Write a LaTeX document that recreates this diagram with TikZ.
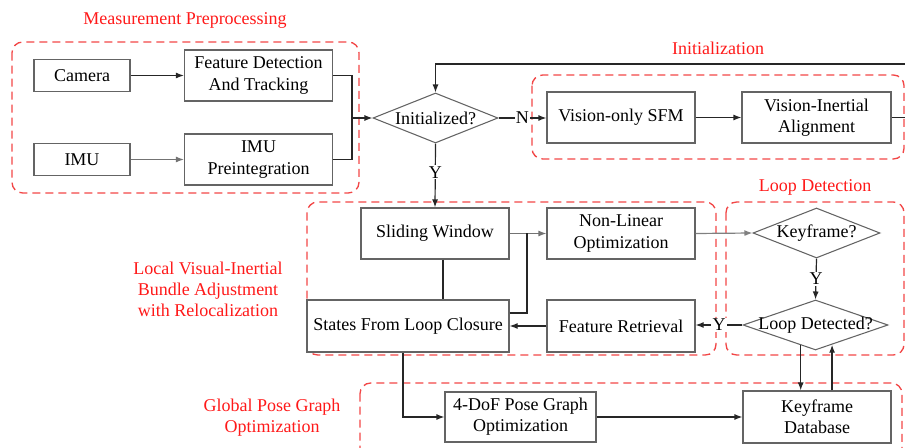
\documentclass[tikz,border=0pt]{standalone}
\usepackage{fontspec}
\setmainfont{Liberation Serif}
\usepackage{tikz}
\usetikzlibrary{arrows.meta,shapes.geometric}

\definecolor{frameRed}{RGB}{242,70,70}
\definecolor{titleRed}{RGB}{255,25,25}
\definecolor{boxGray}{RGB}{100,100,100}

\tikzset{
  blk/.style={draw=boxGray, line width=0.9pt, fill=white, align=center, inner sep=1pt, minimum width=111pt, minimum height=38.25pt},
  sml/.style={blk, minimum width=72pt, minimum height=23.5pt},
  dec/.style={diamond, draw=boxGray, line width=0.8pt, fill=white, inner sep=0pt, minimum width=#1, minimum height=37.5pt},
  grp/.style={draw=frameRed, line width=1pt, dash pattern=on 6pt off 3.75pt, rounded corners=8pt},
  grptitle/.style={text=titleRed, align=center},
  arr/.style={draw=black!85, line width=0.9pt, -{Latex[length=6pt,width=4.5pt]}},
  ln/.style={draw=black!85, line width=0.9pt},
  lbl/.style={fill=white, inner sep=0.8pt}
}

\begin{document}
\begin{tikzpicture}[x=0.75pt,y=0.75pt,yscale=-1,xscale=1, font=\rmfamily\fontsize{13.5}{16}\selectfont]
\path[use as bounding box] (0,0) rectangle (905,448);
\clip (0,0) rectangle (905,448);

%Shape: Group Frames
\draw[grp] (12,42) rectangle (359,193);
\draw[grp] (532,75) rectangle (904,159);
\draw[grp] (307,202) rectangle (716,355);
\draw[grp] (726,202) rectangle (904,355);
\draw[grp] (360,383) rectangle (902,470);

% Text Node
\node[grptitle] (tmp) at (185,20) {Measurement Preprocessing};
\node[grptitle] (tini) at (718,48) {Initialization};
\node[grptitle] (tloop) at (815,187) {Loop Detection};
\node[grptitle] (tlba) at (208,289.5) {Local Visual-Inertial\\Bundle Adjustment\\with Relocalization};
\node[grptitle] (tgpg) at (272,417.5) {Global Pose Graph\\Optimization};

%Shape: Rectangle
\node[sml] (cam) at (82,75.5) {Camera};
\node[blk] (fdt) at (258.5,75.5) {Feature Detection\\And Tracking};
\node[sml, minimum height=24pt] (imu) at (82,159.5) {IMU};
\node[blk] (imup) at (258.5,159.5) {IMU\\Preintegration};
\node[blk] (sfm) at (621,117.5) {Vision-only SFM};
\node[blk, minimum width=111.75pt] (via) at (816.5,117.5) {Vision-Inertial\\Alignment};
\node[blk] (sw) at (435,233.5) {Sliding Window};
\node[blk] (nlo) at (621,233.5) {Non-Linear\\Optimization};
\node[blk, minimum width=151.5pt, minimum height=39pt] (slc) at (408,326) {States From Loop Closure};
\node[blk, minimum height=39pt] (fr) at (621,326) {Feature Retrieval};
\node[blk, minimum width=113.25pt, minimum height=37.5pt] (pgo) at (520.5,417) {4-DoF Pose Graph\\Optimization};
\node[blk, minimum height=39pt] (kfdb) at (817,417) {Keyframe\\Database};

%Shape: Diamond
\node[dec=93.75pt, label={center:Initialized?}] (init) at (435.5,118) {};
\node[dec=95.25pt, label={center:Keyframe?}] (kf) at (816.5,233) {};
\node[dec=108.75pt, label={center:Loop Detected?}] (ld) at (815.5,325) {};

\coordinate (mrg) at (352,118);
\coordinate (jn) at (527,233);
\coordinate (rt) at (930,64);
\coordinate (fb) at (435.5,64);

%Straight Lines
\draw[arr] (cam.east) -- (cam.east -| fdt.west);
\draw[arr, draw=black!55] (imu.east) -- (imu.east -| imup.west);
\draw[ln] (fdt.east) -| (mrg);
\draw[ln] (imup.east) -| (mrg);
\draw[arr] (mrg) -- (init.west);
\draw[arr] (init.east) -- node[lbl] {N} (init.east -| sfm.west);
\draw[arr] (sfm.east) -- (via.west);
\draw[arr] (via.east) -| (rt) -- (fb) -- (init.north);
\draw[arr] (init.south) -- node[lbl, pos=0.45] {Y} (sw.north);
\draw[arr, draw=black!55] (sw.east) -- (nlo.west);
\draw[ln] ([xshift=6pt]sw.south) -- ([xshift=6pt]sw.south |- slc.north);
\draw[ln] ([yshift=-9.75pt]slc.east) -| (jn);
\draw[arr] (fr.west) -- (slc.east);
\draw[arr, draw=black!50] (nlo.east) -- (kf.west);
\draw[arr] (kf.south) -- node[lbl] {Y} (ld.north);
\draw[arr] (ld.west) -- node[lbl] {Y} (ld.west -| fr.east);
\draw[arr] (ld.234) -- (ld.234 |- kfdb.north);
\draw[arr] (ld.310 |- kfdb.north) -- (ld.310);
\draw[arr] ([xshift=-3.75pt]slc.south) |- (pgo.west);
\draw[arr] (pgo.east) -- (kfdb.west);
\end{tikzpicture}
\end{document}
